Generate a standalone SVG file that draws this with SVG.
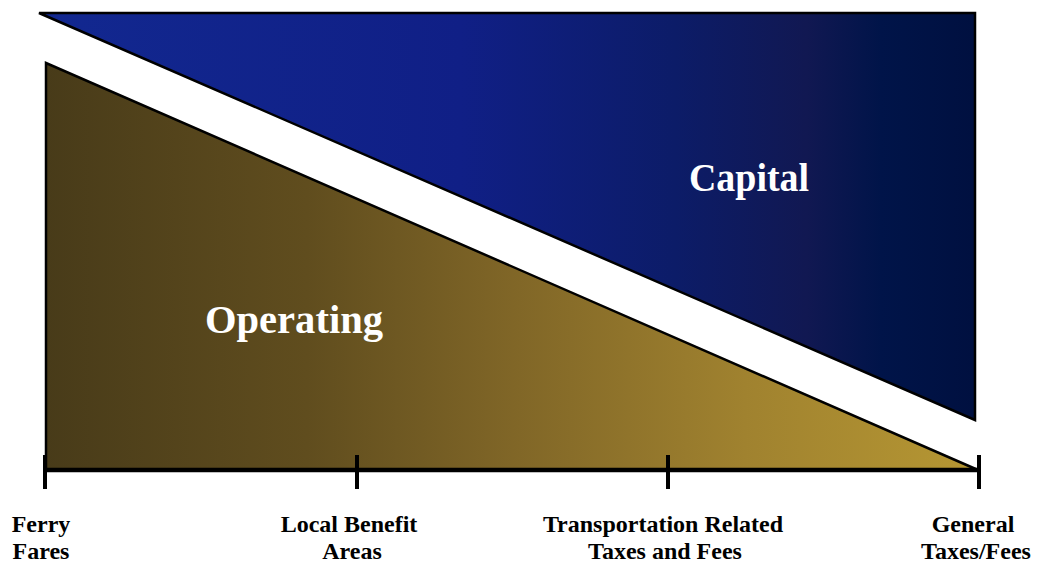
<svg xmlns="http://www.w3.org/2000/svg" width="1043" height="563" viewBox="0 0 1043 563">
  <defs>
    <linearGradient id="capitalFill" x1="39" y1="0" x2="975" y2="0" gradientUnits="userSpaceOnUse">
      <stop offset="0" stop-color="#122890"/>
      <stop offset="0.45" stop-color="#101f86"/>
      <stop offset="0.68" stop-color="#0c1c68"/>
      <stop offset="0.82" stop-color="#111852"/>
      <stop offset="0.9" stop-color="#001449"/>
      <stop offset="1" stop-color="#001040"/>
    </linearGradient>
    <linearGradient id="operatingFill" x1="46" y1="0" x2="978" y2="0" gradientUnits="userSpaceOnUse">
      <stop offset="0" stop-color="#483b19"/>
      <stop offset="0.28" stop-color="#604d1e"/>
      <stop offset="0.5" stop-color="#806627"/>
      <stop offset="0.75" stop-color="#a0822f"/>
      <stop offset="1" stop-color="#b69733"/>
    </linearGradient>
    <style>
      .area { stroke: #000; stroke-width: 2.5; }
      .axis { stroke: #000; stroke-width: 4.5; fill: none; }
      .tick { stroke: #000; stroke-width: 4; }
      .big { font-family: "Liberation Serif", "DejaVu Serif", serif; font-weight: bold; font-size: 39px; fill: #fff; text-anchor: middle; }
      .lbl { font-family: "Liberation Serif", "DejaVu Serif", serif; font-weight: bold; font-size: 24px; fill: #000; text-anchor: middle; }
    </style>
  </defs>

  <g id="capital">
    <polygon class="area" points="39,13 975,13 975,420" fill="url(#capitalFill)"/>
    <text class="big" x="749" y="191" textLength="120" lengthAdjust="spacingAndGlyphs">Capital</text>
  </g>

  <g id="operating">
    <polygon class="area" points="46,63 46,470 978,470" fill="url(#operatingFill)"/>
    <text class="big" x="294" y="333" textLength="178" lengthAdjust="spacingAndGlyphs">Operating</text>
  </g>

  <g id="axis">
    <line class="axis" x1="44" y1="470" x2="980" y2="470"/>
    <line class="tick" x1="45" y1="455" x2="45" y2="489"/>
    <line class="tick" x1="357" y1="455" x2="357" y2="489"/>
    <line class="tick" x1="668" y1="455" x2="668" y2="489"/>
    <line class="tick" x1="979" y1="455" x2="979" y2="489"/>
  </g>

  <g id="ferry-fares">
    <text class="lbl" x="41" y="532">Ferry</text>
    <text class="lbl" x="41" y="559">Fares</text>
  </g>
  <g id="local-benefit-areas">
    <text class="lbl" x="349" y="532">Local Benefit</text>
    <text class="lbl" x="352" y="559">Areas</text>
  </g>
  <g id="transportation-taxes">
    <text class="lbl" x="663" y="532">Transportation Related</text>
    <text class="lbl" x="665" y="559">Taxes and Fees</text>
  </g>
  <g id="general-taxes">
    <text class="lbl" x="973" y="532">General</text>
    <text class="lbl" x="976" y="559">Taxes/Fees</text>
  </g>
</svg>
